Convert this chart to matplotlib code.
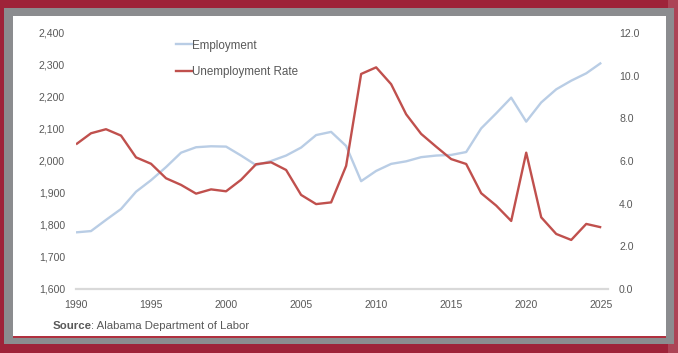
import matplotlib
matplotlib.use("Agg")
import matplotlib.pyplot as plt
from matplotlib.patches import Rectangle
from matplotlib.lines import Line2D

plt.rcParams['font.family'] = ['Liberation Sans', 'DejaVu Sans']

years = list(range(1990, 2026))
employment = [1777, 1781, 1816, 1850, 1904, 1940, 1981, 2026, 2043, 2046,
              2045, 2017, 1987, 2000, 2017, 2042, 2081, 2091, 2047, 1937,
              1969, 1991, 1999, 2012, 2017, 2019, 2028, 2102, 2149, 2198,
              2123, 2183, 2224, 2251, 2274, 2307]
unemployment = [6.78, 7.30, 7.49, 7.19, 6.17, 5.87, 5.19, 4.88, 4.47, 4.67,
                4.58, 5.12, 5.85, 5.94, 5.58, 4.41, 3.98, 4.06, 5.77, 10.08,
                10.39, 9.60, 8.19, 7.27, 6.67, 6.09, 5.86, 4.49, 3.91, 3.19,
                6.39, 3.36, 2.58, 2.30, 3.05, 2.89]
left_ticks = [1600, 1700, 1800, 1900, 2000, 2100, 2200, 2300, 2400]
right_ticks = [0, 2, 4, 6, 8, 10, 12]
x_ticks = [1990, 1995, 2000, 2005, 2010, 2015, 2020, 2025]

W, H = 678, 353
fig = plt.figure(figsize=(W / 100, H / 100), dpi=100)
fig.patch.set_facecolor('#9E2339')

def frect(x0, y0, x1, y1, color, z):
    fig.patches.append(Rectangle((x0 / W, 1 - y1 / H), (x1 - x0) / W, (y1 - y0) / H,
                                 transform=fig.transFigure, facecolor=color,
                                 edgecolor='none', zorder=z))

frect(668, 0, 678, 353, '#AC4456', -10)
frect(4, 8, 673.5, 344, '#8B8C8F', -9)
frect(12.5, 16, 665.5, 337.5, '#B0303F', -8)
frect(12.5, 16, 665.5, 336, '#FFFFFF', -7)

text_color = '#595959'
ax = fig.add_axes([76 / W, 1 - 289 / H, (608 - 76) / W, (289 - 33) / H])
ax.set_facecolor('none')
ax2 = ax.twinx()
ax2.set_facecolor('none')

ax.plot(years, employment, color='#B9CDE5', lw=1.7, solid_capstyle='butt', zorder=2)
ax2.plot(years, unemployment, color='#C0504D', lw=1.7, solid_capstyle='butt', zorder=3)

ax.set_xlim(1990, 2025.45)
ax.set_ylim(1600, 2400)
ax2.set_ylim(0, 12)
ax.set_xticks(x_ticks)
ax.set_xticklabels([str(t) for t in x_ticks])
ax.set_yticks(left_ticks)
ax.set_yticklabels([f"{t:,}" for t in left_ticks])
ax2.set_yticks(right_ticks)
ax2.set_yticklabels([f"{t:.1f}" for t in right_ticks])

for a in (ax, ax2):
    for s in a.spines.values():
        s.set_visible(False)
    a.tick_params(length=0, labelsize=7.6, labelcolor=text_color)
ax.tick_params(axis='y', pad=8)
ax.tick_params(axis='x', pad=8)
ax2.tick_params(axis='y', pad=8)
ax.axhline(1600, color='#D9D9D9', lw=1.6, zorder=1, clip_on=False)

handles = [Line2D([], [], color='#B9CDE5', lw=1.7),
           Line2D([], [], color='#C0504D', lw=1.7)]
leg = fig.legend(handles, ['Employment', 'Unemployment Rate'],
                 loc='upper left', bbox_to_anchor=(176 / W, 1 - 39.5 / H),
                 frameon=False, fontsize=8.4, handlelength=1.35,
                 handletextpad=0.0, labelspacing=1.22, borderaxespad=0,
                 borderpad=0)
for t in leg.get_texts():
    t.set_color(text_color)

src_bold = fig.text(53 / W, 1 - 326 / H, 'Source', fontsize=8.2, color=text_color,
                    fontweight='bold', va='center', ha='left')
fig.canvas.draw()
bb = src_bold.get_window_extent()
fig.text((bb.x1 - 1) / W, 1 - 326 / H, ': Alabama Department of Labor', fontsize=8.2,
         color=text_color, va='center', ha='left')

fig.savefig('out.png', dpi=100, facecolor=fig.get_facecolor())
